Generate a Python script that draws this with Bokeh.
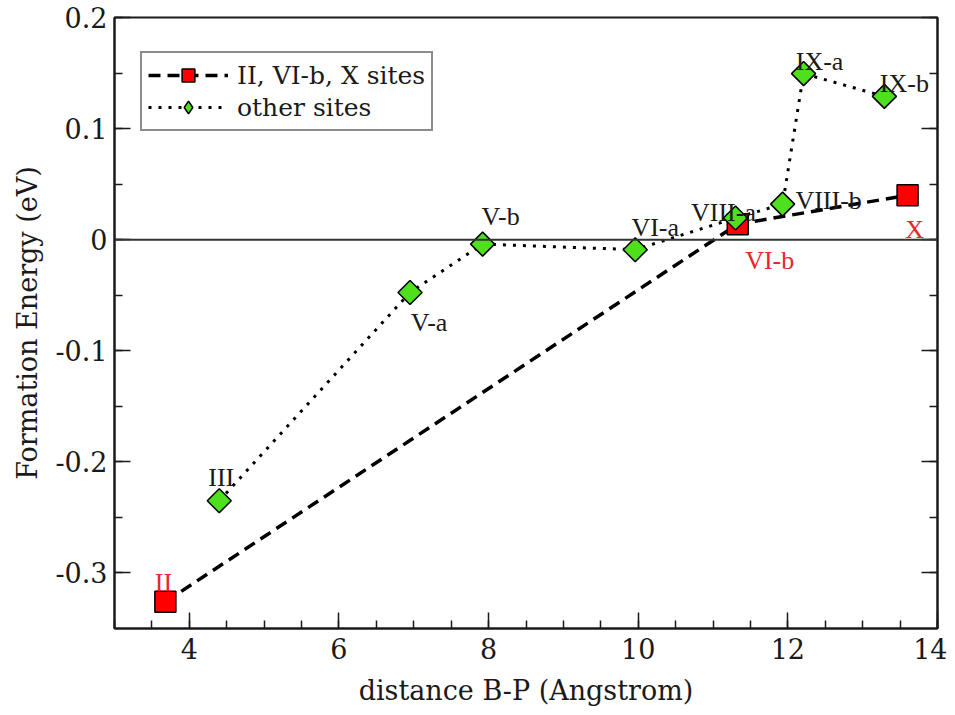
import math
from bokeh.plotting import figure
from bokeh.models import (ColumnDataSource, LinearAxis, SingleIntervalTicker, Span,
                          Legend, LegendItem, CustomJSTickFormatter, Range1d)
from bokeh.core.properties import value
from bokeh.embed import file_html
from bokeh.resources import INLINE

# ---- data ----
red_sites = ["II", "VI-b", "X"]
red_x = [3.68, 11.33, 13.60]
red_y = [-0.326, 0.014, 0.040]

green_sites = ["III", "V-a", "V-b", "VI-a", "VIII-a", "VIII-b", "IX-a", "IX-b"]
green_x = [4.40, 6.95, 7.92, 9.96, 11.30, 11.93, 12.21, 13.29]
green_y = [-0.235, -0.0475, -0.004, -0.009, 0.0195, 0.032, 0.1495, 0.129]

x_range = (3, 14)
y_range = (-0.35, 0.2)
zero_level = 0

# ---- label placement (screen px) ----
red_dx = [-2, 32, 7]
red_dy = [-19, 36, 34]
green_dx = [2, 19, 18, 20, -12, 46, 16, 20]
green_dy = [-23, 30, -28, -22, -6, -4, -12, -13]

LABEL_FONT = value("Liberation Serif")
AXIS_FONT = "DejaVu Serif"
RED = "#ff0000"
GREEN = "#4ee01c"
RED_TEXT = "#e8262c"
INK = "#1a1a1a"

p = figure(width=947, height=711, output_backend="svg", toolbar_location=None,
           x_range=Range1d(*x_range), y_range=Range1d(*y_range),
           min_border_left=114, min_border_right=10, min_border_top=17, min_border_bottom=83,
           x_axis_label="distance B-P (Angstrom)", y_axis_label="Formation Energy (eV)")
p.xgrid.visible = False
p.ygrid.visible = False
p.outline_line_color = INK
p.outline_line_width = 2
p.background_fill_color = "white"
p.border_fill_color = "white"

xt = SingleIntervalTicker(interval=2, num_minor_ticks=4)
yt = SingleIntervalTicker(interval=0.1, num_minor_ticks=2)
yfmt = CustomJSTickFormatter(code="""
const v = Math.round(tick*10)/10;
return v === 0 ? "0" : v.toString();
""")

for ax in [p.xaxis[0], p.yaxis[0]]:
    ax.major_tick_in = 16
    ax.major_tick_out = 0
    ax.minor_tick_in = 8
    ax.minor_tick_out = 0
    ax.axis_line_width = 2
    ax.axis_line_color = INK
    ax.major_tick_line_width = 1.5
    ax.minor_tick_line_width = 1.5
    ax.major_tick_line_color = INK
    ax.minor_tick_line_color = INK
    ax.major_label_text_font = AXIS_FONT
    ax.major_label_text_font_size = "27px"
    ax.major_label_text_color = INK
    ax.axis_label_text_font = AXIS_FONT
    ax.axis_label_text_font_size = "27px"
    ax.axis_label_text_font_style = "normal"
    ax.axis_label_text_color = INK

p.xaxis[0].ticker = xt
p.yaxis[0].ticker = yt
p.yaxis[0].formatter = yfmt
p.xaxis[0].major_label_standoff = 9
p.xaxis[0].axis_label_standoff = 13
p.yaxis[0].major_label_standoff = 7
p.yaxis[0].axis_label_standoff = 9

right = LinearAxis(ticker=SingleIntervalTicker(interval=0.1, num_minor_ticks=2),
                   formatter=CustomJSTickFormatter(code='return "";'),
                   major_label_standoff=0,
                   major_tick_in=16, major_tick_out=0, minor_tick_in=8, minor_tick_out=0,
                   axis_line_width=2, axis_line_color=INK,
                   major_tick_line_width=1.5, minor_tick_line_width=1.5,
                   major_tick_line_color=INK, minor_tick_line_color=INK)
p.add_layout(right, "right")

p.add_layout(Span(location=zero_level, dimension="width", line_color="#333333", line_width=2))

red_src = ColumnDataSource(dict(x=red_x, y=red_y, site=red_sites, dx=red_dx, dy=red_dy))
green_src = ColumnDataSource(dict(x=green_x, y=green_y, site=green_sites, dx=green_dx, dy=green_dy))

red_line = p.line("x", "y", source=red_src, line_color="black", line_width=3.5, line_dash="12 7")
green_line = p.line("x", "y", source=green_src, line_color="black", line_width=3, line_dash="3 7")
# diamond used as the legend symbol; it lies fully hidden beneath the rotated squares
legend_diamond = p.scatter("x", "y", source=green_src, marker="diamond", size=15,
                           fill_color=GREEN, line_color="black", line_width=1.5)
red_pts = p.scatter("x", "y", source=red_src, marker="square", size=21,
                    fill_color=RED, line_color="black", line_width=1.5)
green_pts = p.scatter("x", "y", source=green_src, marker="square", size=17, angle=math.pi/4,
                      fill_color=GREEN, line_color="black", line_width=1.5)

p.text("x", "y", text="site", source=green_src, x_offset="dx", y_offset="dy",
       text_font=LABEL_FONT, text_font_size="26px", text_color=INK,
       text_align="center", text_baseline="alphabetic")
p.text("x", "y", text="site", source=red_src, x_offset="dx", y_offset="dy",
       text_font=LABEL_FONT, text_font_size="26px", text_color=RED_TEXT,
       text_align="center", text_baseline="alphabetic")

legend = Legend(items=[
    LegendItem(label="II, VI-b, X sites", renderers=[red_line, red_pts]),
    LegendItem(label="other sites", renderers=[green_line, legend_diamond]),
], location=(26, 497))
legend.label_text_font = AXIS_FONT
legend.label_text_font_size = "25px"
legend.label_text_color = INK
legend.border_line_color = INK
legend.border_line_width = 2
legend.background_fill_alpha = 1
legend.glyph_width = 80
legend.glyph_height = 32
legend.label_height = 26
legend.spacing = 0
legend.padding = 6
legend.margin = 0
legend.label_standoff = 9
p.add_layout(legend)

open("out.html", "w").write(file_html(p, INLINE))
